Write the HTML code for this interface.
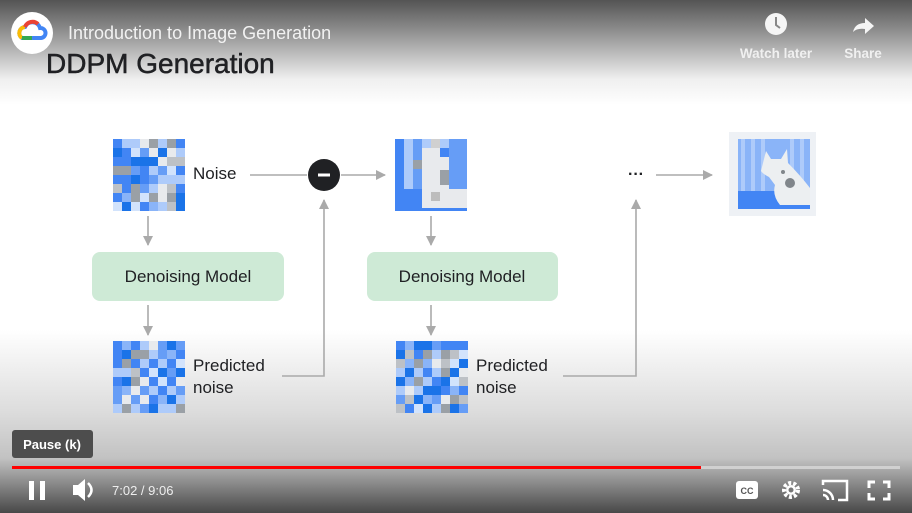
<!DOCTYPE html>
<html><head><meta charset="utf-8"><style>
html,body{margin:0;padding:0;width:912px;height:513px;overflow:hidden;background:#fff}
svg{display:block}
text{font-family:"Liberation Sans",sans-serif}
</style></head><body>
<svg id="s" width="912" height="513" viewBox="0 0 912 513" xmlns="http://www.w3.org/2000/svg">
<defs>
<linearGradient id="top" x1="0" y1="0" x2="0" y2="1">
<stop offset="0" stop-color="#545454"/><stop offset="0.35" stop-color="#9a9a9a"/><stop offset="0.75" stop-color="#efefef"/><stop offset="1" stop-color="#fff"/></linearGradient>
<linearGradient id="bot" x1="0" y1="0" x2="0" y2="1">
<stop offset="0" stop-color="#fff"/><stop offset="0.45" stop-color="#dcdcdc"/><stop offset="0.7" stop-color="#c2c2c2"/><stop offset="1" stop-color="#484848"/></linearGradient>
<marker id="ah" viewBox="0 0 10 10" refX="9" refY="5" markerWidth="10" markerHeight="10" markerUnits="userSpaceOnUse" orient="auto"><path d="M0,0 L10,5 L0,10 z" fill="#aaa"/></marker>
</defs>
<rect width="912" height="513" fill="#fff"/>
<rect width="912" height="105" fill="url(#top)"/>
<rect y="330" width="912" height="183" fill="url(#bot)"/>

<circle cx="32" cy="33" r="21" fill="#fff"/>
<path d="M22,38 a6,6 0 0 1 3,-11 a8,8 0 0 1 15,1 a5,5 0 0 1 1,10 z" fill="none" stroke="#4285f4" stroke-width="4"/>
<path d="M22,38 a6,6 0 0 1 3,-11" fill="none" stroke="#fbbc04" stroke-width="4"/>
<path d="M25,27 a8,8 0 0 1 13,-3" fill="none" stroke="#ea4335" stroke-width="4"/>
<path d="M22,38 h10" stroke="#34a853" stroke-width="4"/>
<text x="68" y="39" font-size="18" fill="#f2f2f2">Introduction to Image Generation</text>
<text x="46" y="73" font-size="28" fill="#202124" stroke="#202124" stroke-width="0.5">DDPM Generation</text>

<circle cx="776" cy="24" r="11" fill="#f5f5f5"/>
<path d="M776,17 v8 l4,3" stroke="#888" stroke-width="2" fill="none"/>
<text x="776" y="58" font-size="13.5" fill="#f0f0f0" font-weight="bold" text-anchor="middle">Watch later</text>
<path d="M853,32 q2,-9 12,-9 v-5 l9,8 l-9,8 v-5 q-8,-1 -12,3z" fill="#f5f5f5"/>
<text x="863" y="58" font-size="13.5" fill="#f0f0f0" font-weight="bold" text-anchor="middle">Share</text>

<g id="grids"></g>

<g stroke="#aaa" stroke-width="1.6" fill="none">
<line x1="250" y1="175" x2="307" y2="175"/>
<line x1="341" y1="175" x2="385" y2="175" marker-end="url(#ah)"/>
<line x1="148" y1="216" x2="148" y2="245" marker-end="url(#ah)"/>
<line x1="148" y1="305" x2="148" y2="335" marker-end="url(#ah)"/>
<polyline points="282,376 324,376 324,200" marker-end="url(#ah)"/>
<line x1="431" y1="216" x2="431" y2="245" marker-end="url(#ah)"/>
<line x1="431" y1="305" x2="431" y2="335" marker-end="url(#ah)"/>
<polyline points="563,376 636,376 636,200" marker-end="url(#ah)"/>
<line x1="656" y1="175" x2="712" y2="175" marker-end="url(#ah)"/>
</g>
<circle cx="324" cy="175" r="16" fill="#202124"/>
<rect x="318" y="173.5" width="12" height="3" fill="#fff"/>
<text x="636" y="179" font-size="16" fill="#202124" text-anchor="middle" font-weight="bold">···</text>

<text x="193" y="179" font-size="17" fill="#202124">Noise</text>
<rect x="92" y="252" width="192" height="49" rx="8" fill="#ceead6"/>
<text x="188" y="282" font-size="17" fill="#202124" text-anchor="middle">Denoising Model</text>
<rect x="367" y="252" width="191" height="49" rx="8" fill="#ceead6"/>
<text x="462" y="282" font-size="17" fill="#202124" text-anchor="middle">Denoising Model</text>
<text x="193" y="371" font-size="17" fill="#202124">Predicted</text>
<text x="193" y="393" font-size="17" fill="#202124">noise</text>
<text x="476" y="371" font-size="17" fill="#202124">Predicted</text>
<text x="476" y="393" font-size="17" fill="#202124">noise</text>

<!-- second image -->
<rect x="395" y="139" width="72" height="72" fill="#aecbfa"/>
<rect x="395" y="139" width="9" height="50" fill="#4285f4"/>
<rect x="413" y="139" width="9" height="50" fill="#669df6"/>
<rect x="449" y="139" width="18" height="50" fill="#669df6"/>
<rect x="422" y="148" width="27" height="63" fill="#e8eaed"/>
<rect x="431" y="139" width="9" height="9" fill="#d0d0d0"/>
<rect x="440" y="148" width="9" height="9" fill="#4285f4"/>
<rect x="413" y="160" width="9" height="9" fill="#9aa0a6"/>
<rect x="440" y="170" width="9" height="15" fill="#9aa0a6"/>
<rect x="395" y="189" width="72" height="22" fill="#4285f4"/>
<rect x="422" y="189" width="45" height="19" fill="#e8eaed"/>
<rect x="431" y="192" width="9" height="9" fill="#bdbdbd"/>

<!-- dog image -->
<rect x="729" y="132" width="87" height="84" fill="#eef1f5"/>
<rect x="738" y="139" width="72" height="70" fill="#8ab4f8"/>
<g fill="#aecbfa"><rect x="741" y="139" width="4" height="52"/><rect x="751" y="139" width="4" height="52"/><rect x="761" y="139" width="4" height="52"/><rect x="790" y="139" width="4" height="52"/><rect x="800" y="139" width="4" height="52"/></g>
<rect x="738" y="191" width="72" height="18" fill="#4285f4"/>
<path d="M763,163 l3,-12 l5,8 l10,0 l6,-10 l1,14 q12,12 22,25 v17 h-30 q-8,-10 -5,-20 l-6,-8 q-6,-3 -8,-6z" fill="#eceff1"/>
<circle cx="790" cy="183" r="5" fill="#80868b"/><circle cx="783" cy="172" r="2" fill="#80868b"/>

<!-- player -->
<rect x="12" y="430" width="81" height="28" rx="3" fill="#4d4d4d"/>
<text x="52" y="449" font-size="13" fill="#fff" text-anchor="middle" font-weight="bold">Pause (k)</text>
<rect x="12" y="466" width="888" height="3" fill="#d0d0d0"/>
<rect x="12" y="466" width="689" height="3" fill="#f00"/>
<rect x="29" y="481" width="5" height="19" fill="#fff"/><rect x="40" y="481" width="5" height="19" fill="#fff"/>
<path d="M73,485 h5 l7,-6 v22 l-7,-6 h-5z" fill="#fff"/>
<path d="M88,483 q7,7 0,14" stroke="#fff" stroke-width="2.5" fill="none"/>
<text x="112" y="495" font-size="13" fill="#eee">7:02 / 9:06</text>
<rect x="736" y="481" width="22" height="18" rx="3" fill="#fff"/>
<text x="747" y="494" font-size="9" fill="#555" text-anchor="middle" font-weight="bold">CC</text>
<circle cx="791" cy="490" r="7" fill="none" stroke="#fff" stroke-width="4" stroke-dasharray="3 2"/>
<circle cx="791" cy="490" r="5" fill="#fff"/><circle cx="791" cy="490" r="2.5" fill="#777"/>
<path d="M823,485 v-4 h24 v19 h-9" stroke="#fff" stroke-width="2.5" fill="none"/>
<path d="M823,490 a10,10 0 0 1 10,10 M823,495 a5,5 0 0 1 5,5" stroke="#fff" stroke-width="2.5" fill="none"/>
<g stroke="#fff" stroke-width="3" fill="none"><path d="M869,488 v-6 h6 M883,482 h6 v6 M889,493 v6 h-6 M875,499 h-6 v-6"/></g>
</svg>
<script>
(function(){
var g=document.getElementById('grids'),seed=7;
function r(){seed=(seed*9301+49297)%233280;return seed/233280;}
var dark=['#4285f4','#1a73e8','#4285f4','#669df6','#9aa0a6'];
var light=['#aecbfa','#d2e3fc','#e8eaed','#8ab4f8','#bdc1c6','#aecbfa'];
var pos=[[113,139],[113,341],[396,341]];
var h='';
pos.forEach(function(p){for(var i=0;i<8;i++)for(var j=0;j<8;j++){
var c=((i+j)%2==0)?dark:light; if(r()<0.2)c=(c===dark)?light:dark;
h+='<rect x="'+(p[0]+i*9)+'" y="'+(p[1]+j*9)+'" width="9" height="9" fill="'+c[Math.floor(r()*c.length)]+'"/>';}});
g.innerHTML=h;
})();
</script>
</body></html>
